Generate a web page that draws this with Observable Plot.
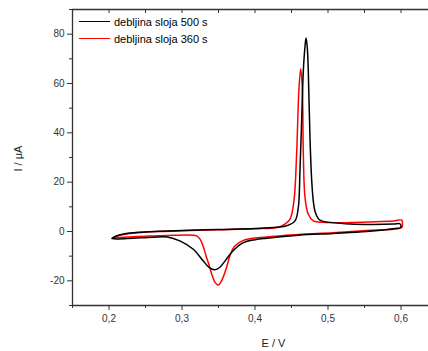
<!DOCTYPE html>
<html><head><meta charset="utf-8">
<script src="https://cdn.jsdelivr.net/npm/d3@7"></script>
<script src="https://cdn.jsdelivr.net/npm/@observablehq/plot@0.6"></script>
<style>
html,body{margin:0;padding:0;overflow:hidden;background:#fff}
#wrap{position:relative;width:428px;height:351px;overflow:hidden}
.leg{position:absolute;left:79px;height:13px;line-height:13px;font:11px "Liberation Sans",Arial,sans-serif;color:#000;display:flex;align-items:center;white-space:nowrap}
.sw{display:inline-block;width:31px;height:0;border-top:1.6px solid;margin-right:4px}
</style></head><body><div id="wrap"></div>
<script>
// Series: black = debljina sloja 500 s, red = debljina sloja 360 s (cyclic loop, data order)
const E500 = [0.204,0.21,0.22,0.24,0.27,0.30,0.35,0.40,0.43,0.4434,0.4548,0.4593,0.4616,0.4639,0.4662,0.4685,0.4699,0.4715,0.473,0.4753,0.4777,0.480,0.482,0.486,0.489,0.495,0.5027,0.53,0.56,0.59,0.598,0.6,0.599,0.595,0.553,0.507,0.46,0.416,0.40,0.384,0.370,0.36,0.352,0.345,0.337,0.329,0.3155,0.297,0.28,0.26,0.233,0.21,0.204];
const I500 = [-2.8,-1.8,-1.0,-0.3,0.1,0.4,0.8,1.2,1.7,2.3,4.3,9.7,24.6,44.9,65.2,75,78.4,75,65.2,38.1,20.6,12,8.4,5.5,4.6,4.0,3.7,3.0,2.8,3.0,3.2,2.4,1.5,1.3,0,-0.8,-1.5,-2.7,-3.3,-4.5,-7.8,-11.5,-14.5,-15.5,-14.5,-11.9,-7.2,-3.8,-2.2,-2.3,-2.7,-3.0,-2.8];
const E360 = [0.205,0.21,0.22,0.24,0.27,0.30,0.35,0.40,0.43,0.441,0.448,0.4534,0.457,0.4603,0.4626,0.4648,0.4662,0.4685,0.473,0.48,0.4936,0.53,0.56,0.59,0.601,0.602,0.601,0.553,0.507,0.46,0.416,0.384,0.372,0.366,0.361,0.355,0.3497,0.345,0.341,0.337,0.333,0.329,0.3247,0.32,0.3155,0.28,0.25,0.22,0.205];
const I360 = [-2.6,-1.9,-1.2,-0.5,0.0,0.3,0.7,1.1,1.6,3.0,5.0,12.5,31.4,58.4,65.9,58.4,31.4,13.8,7.0,4.3,3.7,3.6,3.9,4.3,4.6,3.2,1.6,0.4,-0.5,-1.2,-2.2,-3.6,-6.0,-9.5,-14.6,-19.5,-21.7,-20.5,-17.5,-13.5,-9.9,-6.0,-3.1,-1.8,-1.5,-1.6,-1.9,-2.3,-2.6];
const seriesNames = ["debljina sloja 500 s", "debljina sloja 360 s"];
const seriesColors = ["#000000", "#ff0000"];
// Ticks
const xMajor = [0.2, 0.3, 0.4, 0.5, 0.6];
const xMinor = [0.15, 0.25, 0.35, 0.45, 0.55, 0.65];
const xTop = [0.15, 0.2, 0.25, 0.3, 0.35, 0.4, 0.45, 0.5, 0.55, 0.6, 0.65];
const yMajor = [-20, 0, 20, 40, 60, 80];
const yMinor = [-30, -10, 10, 30, 50, 70, 90];
const xTitle = "E / V";
const yTitle = "I / \u03bcA";

const black = E500.map((e, i) => ({E: e, I: I500[i]}));
const red = E360.map((e, i) => ({E: e, I: I360[i]}));
const font = '"Liberation Sans", Arial, sans-serif';
const axisColor = "#333";

const plot = Plot.plot({
  width: 428, height: 351,
  marginLeft: 72, marginRight: -9, marginTop: 9, marginBottom: 46,
  style: {fontFamily: font, fontSize: "10px", color: axisColor, background: "white", overflow: "hidden"},
  x: {domain: [0.15, 0.65]},
  y: {domain: [-30, 90]},
  marks: [
    Plot.axisY({ticks: yMajor, tickSize: 5, tickPadding: 3, tickFormat: d => String(d), label: null, fontSize: 10}),
    Plot.axisY({ticks: yMinor, tickSize: 3, tickFormat: () => "", label: null}),
    Plot.axisX({ticks: xMajor, tickSize: 5, tickPadding: 4, tickFormat: d => d.toFixed(1).replace(".", ","), label: null, fontSize: 10}),
    Plot.axisX({ticks: xMinor, tickSize: 3, tickFormat: () => "", label: null}),
    Plot.axisX({anchor: "top", ticks: xTop, tickSize: -3, tickFormat: () => "", label: null}),
    Plot.ruleX([0.15], {stroke: axisColor, strokeWidth: 1.3}),
    Plot.ruleY([-30], {stroke: axisColor, strokeWidth: 1.3}),
    Plot.ruleY([90], {stroke: axisColor, strokeWidth: 1.3}),
    Plot.text([xTitle], {frameAnchor: "bottom", lineAnchor: "middle", dx: 18.5, dy: 37.5, fontSize: 11, fill: "#222", fontFamily: font}),
    Plot.text([yTitle], {frameAnchor: "left", lineAnchor: "middle", rotate: -90, dx: -54, dy: 14, fontSize: 11, fill: "#222", fontFamily: font}),
    Plot.line(red, {x: "E", y: "I", stroke: seriesColors[1], strokeWidth: 1.5, curve: "catmull-rom"}),
    Plot.line(black, {x: "E", y: "I", stroke: seriesColors[0], strokeWidth: 1.5, curve: "catmull-rom"})
  ]
});
const wrap = document.getElementById("wrap");
wrap.appendChild(plot);
const legTops = [15, 32];
seriesNames.forEach((name, i) => {
  const d = document.createElement("div");
  d.className = "leg";
  d.style.top = legTops[i] + "px";
  const sw = document.createElement("span");
  sw.className = "sw";
  sw.style.borderTopColor = seriesColors[i];
  d.appendChild(sw);
  d.appendChild(document.createTextNode(name));
  wrap.appendChild(d);
});
</script></body></html>
